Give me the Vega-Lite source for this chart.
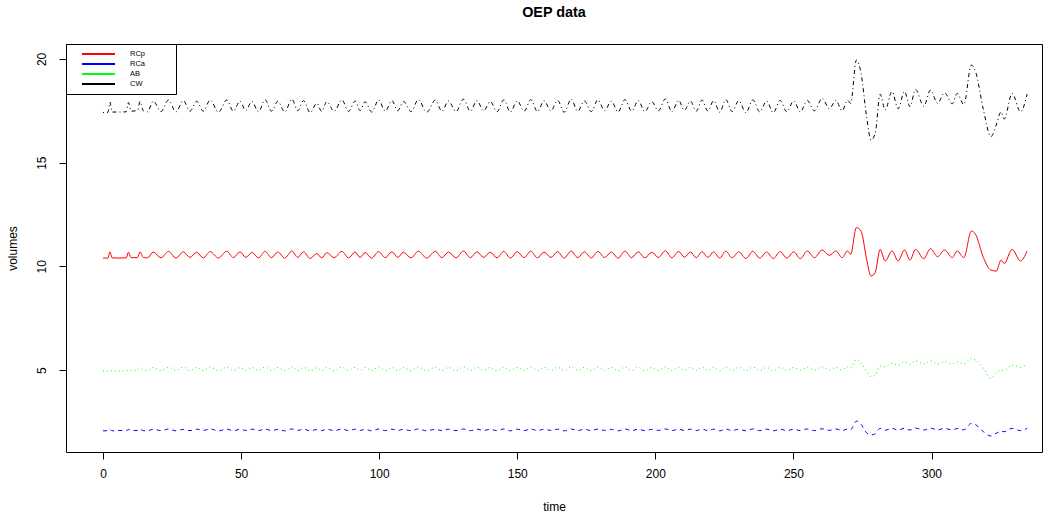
{
  "$schema": "https://vega.github.io/schema/vega-lite/v6.json",
  "autosize": "none",
  "width": 976,
  "height": 408,
  "padding": {"left": 66, "top": 44, "right": 13, "bottom": 63},
  "background": "white",
  "title": {"text": "OEP data", "fontSize": 14.4, "fontWeight": "bold", "font": "Liberation Sans", "color": "black", "anchor": "middle", "offset": 23},
  "config": {"view": {"stroke": "black", "strokeWidth": 1}, "font": "Liberation Sans"},
  "data": {"values": [
    {"t":0,"RCp":10.4,"RCa":2.07,"AB":4.95,"CW":17.42},
    {"t":1.8,"RCp":10.4,"RCa":2.08,"AB":4.95,"CW":17.43},
    {"t":2.5,"RCp":10.7,"RCa":2.14,"AB":4.99,"CW":17.92},
    {"t":3.3,"RCp":10.41,"RCa":2.07,"AB":4.96,"CW":17.44},
    {"t":5.5,"RCp":10.4,"RCa":2.09,"AB":4.95,"CW":17.44},
    {"t":8.4,"RCp":10.41,"RCa":2.08,"AB":4.96,"CW":17.45},
    {"t":9.2,"RCp":10.68,"RCa":2.14,"AB":5.0,"CW":17.9},
    {"t":10.2,"RCp":10.42,"RCa":2.08,"AB":4.98,"CW":17.48},
    {"t":12.5,"RCp":10.42,"RCa":2.09,"AB":5.02,"CW":17.52},
    {"t":13.4,"RCp":10.7,"RCa":2.15,"AB":5.1,"CW":17.95},
    {"t":14.6,"RCp":10.43,"RCa":2.08,"AB":5.0,"CW":17.5},
    {"t":16.1,"RCp":10.41,"RCa":2.07,"AB":4.97,"CW":17.45},
    {"t":18.2,"RCp":10.69,"RCa":2.15,"AB":5.13,"CW":17.97},
    {"t":21.0,"RCp":10.41,"RCa":2.08,"AB":4.97,"CW":17.46},
    {"t":23.7,"RCp":10.72,"RCa":2.16,"AB":5.14,"CW":18.02},
    {"t":26.4,"RCp":10.4,"RCa":2.07,"AB":4.98,"CW":17.45},
    {"t":29.1,"RCp":10.7,"RCa":2.14,"AB":5.15,"CW":17.99},
    {"t":31.5,"RCp":10.43,"RCa":2.08,"AB":4.97,"CW":17.48},
    {"t":33.9,"RCp":10.68,"RCa":2.15,"AB":5.13,"CW":17.96},
    {"t":36.3,"RCp":10.41,"RCa":2.09,"AB":4.98,"CW":17.48},
    {"t":38.8,"RCp":10.71,"RCa":2.16,"AB":5.15,"CW":18.02},
    {"t":41.8,"RCp":10.4,"RCa":2.07,"AB":4.96,"CW":17.43},
    {"t":44.8,"RCp":10.73,"RCa":2.15,"AB":5.14,"CW":18.02},
    {"t":47.2,"RCp":10.42,"RCa":2.08,"AB":4.98,"CW":17.48},
    {"t":49.6,"RCp":10.7,"RCa":2.14,"AB":5.12,"CW":17.96},
    {"t":51.7,"RCp":10.43,"RCa":2.09,"AB":4.99,"CW":17.51},
    {"t":53.9,"RCp":10.67,"RCa":2.15,"AB":5.13,"CW":17.95},
    {"t":56.3,"RCp":10.41,"RCa":2.08,"AB":4.97,"CW":17.46},
    {"t":58.7,"RCp":10.72,"RCa":2.16,"AB":5.15,"CW":18.03},
    {"t":61.0,"RCp":10.42,"RCa":2.08,"AB":4.98,"CW":17.48},
    {"t":63.3,"RCp":10.69,"RCa":2.14,"AB":5.13,"CW":17.96},
    {"t":65.8,"RCp":10.4,"RCa":2.07,"AB":4.97,"CW":17.44},
    {"t":68.4,"RCp":10.74,"RCa":2.16,"AB":5.16,"CW":18.06},
    {"t":70.5,"RCp":10.43,"RCa":2.09,"AB":4.98,"CW":17.5},
    {"t":72.6,"RCp":10.7,"RCa":2.15,"AB":5.14,"CW":17.99},
    {"t":75.0,"RCp":10.38,"RCa":2.07,"AB":4.96,"CW":17.41},
    {"t":77.4,"RCp":10.62,"RCa":2.13,"AB":5.11,"CW":17.86},
    {"t":79.2,"RCp":10.41,"RCa":2.08,"AB":4.98,"CW":17.47},
    {"t":81.0,"RCp":10.66,"RCa":2.15,"AB":5.13,"CW":17.94},
    {"t":83.7,"RCp":10.42,"RCa":2.08,"AB":4.97,"CW":17.47},
    {"t":86.5,"RCp":10.72,"RCa":2.16,"AB":5.15,"CW":18.03},
    {"t":88.9,"RCp":10.41,"RCa":2.08,"AB":4.98,"CW":17.47},
    {"t":91.3,"RCp":10.69,"RCa":2.15,"AB":5.13,"CW":17.97},
    {"t":93.1,"RCp":10.43,"RCa":2.09,"AB":4.99,"CW":17.51},
    {"t":94.9,"RCp":10.67,"RCa":2.14,"AB":5.12,"CW":17.93},
    {"t":97.3,"RCp":10.4,"RCa":2.07,"AB":4.97,"CW":17.44},
    {"t":99.8,"RCp":10.71,"RCa":2.16,"AB":5.15,"CW":18.02},
    {"t":102.2,"RCp":10.42,"RCa":2.08,"AB":4.98,"CW":17.48},
    {"t":104.6,"RCp":10.7,"RCa":2.15,"AB":5.14,"CW":17.99},
    {"t":106.7,"RCp":10.43,"RCa":2.09,"AB":4.98,"CW":17.5},
    {"t":108.8,"RCp":10.68,"RCa":2.14,"AB":5.13,"CW":17.95},
    {"t":111.5,"RCp":10.41,"RCa":2.08,"AB":4.97,"CW":17.46},
    {"t":114.2,"RCp":10.73,"RCa":2.16,"AB":5.15,"CW":18.04},
    {"t":117.2,"RCp":10.4,"RCa":2.07,"AB":4.96,"CW":17.43},
    {"t":120.3,"RCp":10.72,"RCa":2.15,"AB":5.14,"CW":18.01},
    {"t":122.7,"RCp":10.42,"RCa":2.08,"AB":4.98,"CW":17.48},
    {"t":125.1,"RCp":10.69,"RCa":2.15,"AB":5.13,"CW":17.97},
    {"t":127.8,"RCp":10.41,"RCa":2.08,"AB":4.97,"CW":17.46},
    {"t":130.5,"RCp":10.74,"RCa":2.16,"AB":5.16,"CW":18.06},
    {"t":133.0,"RCp":10.42,"RCa":2.08,"AB":4.98,"CW":17.48},
    {"t":135.4,"RCp":10.7,"RCa":2.15,"AB":5.14,"CW":17.99},
    {"t":137.8,"RCp":10.43,"RCa":2.09,"AB":4.98,"CW":17.5},
    {"t":140.2,"RCp":10.68,"RCa":2.14,"AB":5.13,"CW":17.95},
    {"t":142.7,"RCp":10.41,"RCa":2.08,"AB":4.97,"CW":17.46},
    {"t":145.1,"RCp":10.72,"RCa":2.16,"AB":5.15,"CW":18.03},
    {"t":147.5,"RCp":10.4,"RCa":2.07,"AB":4.97,"CW":17.44},
    {"t":150.0,"RCp":10.7,"RCa":2.15,"AB":5.13,"CW":17.98},
    {"t":152.5,"RCp":10.42,"RCa":2.08,"AB":4.98,"CW":17.48},
    {"t":154.9,"RCp":10.73,"RCa":2.16,"AB":5.15,"CW":18.04},
    {"t":157.3,"RCp":10.41,"RCa":2.08,"AB":4.97,"CW":17.46},
    {"t":159.7,"RCp":10.69,"RCa":2.15,"AB":5.14,"CW":17.98},
    {"t":162.2,"RCp":10.43,"RCa":2.09,"AB":4.98,"CW":17.5},
    {"t":164.6,"RCp":10.71,"RCa":2.15,"AB":5.14,"CW":18.0},
    {"t":167.0,"RCp":10.4,"RCa":2.07,"AB":4.96,"CW":17.43},
    {"t":169.5,"RCp":10.74,"RCa":2.16,"AB":5.16,"CW":18.06},
    {"t":171.9,"RCp":10.42,"RCa":2.08,"AB":4.98,"CW":17.48},
    {"t":174.3,"RCp":10.7,"RCa":2.15,"AB":5.13,"CW":17.98},
    {"t":176.8,"RCp":10.41,"RCa":2.08,"AB":4.97,"CW":17.46},
    {"t":179.2,"RCp":10.72,"RCa":2.16,"AB":5.15,"CW":18.03},
    {"t":181.6,"RCp":10.43,"RCa":2.09,"AB":4.99,"CW":17.51},
    {"t":184.1,"RCp":10.69,"RCa":2.14,"AB":5.13,"CW":17.96},
    {"t":186.5,"RCp":10.4,"RCa":2.07,"AB":4.97,"CW":17.44},
    {"t":189.0,"RCp":10.73,"RCa":2.16,"AB":5.15,"CW":18.04},
    {"t":191.4,"RCp":10.42,"RCa":2.08,"AB":4.98,"CW":17.48},
    {"t":193.8,"RCp":10.7,"RCa":2.15,"AB":5.14,"CW":17.99},
    {"t":196.2,"RCp":10.41,"RCa":2.08,"AB":4.97,"CW":17.46},
    {"t":198.7,"RCp":10.68,"RCa":2.14,"AB":5.12,"CW":17.94},
    {"t":201.1,"RCp":10.43,"RCa":2.09,"AB":4.98,"CW":17.5},
    {"t":203.6,"RCp":10.75,"RCa":2.16,"AB":5.16,"CW":18.07},
    {"t":206.0,"RCp":10.41,"RCa":2.08,"AB":4.97,"CW":17.46},
    {"t":208.4,"RCp":10.72,"RCa":2.15,"AB":5.14,"CW":18.01},
    {"t":210.5,"RCp":10.44,"RCa":2.09,"AB":4.99,"CW":17.52},
    {"t":212.7,"RCp":10.69,"RCa":2.15,"AB":5.13,"CW":17.97},
    {"t":214.8,"RCp":10.42,"RCa":2.08,"AB":4.98,"CW":17.48},
    {"t":216.9,"RCp":10.71,"RCa":2.16,"AB":5.15,"CW":18.02},
    {"t":219.0,"RCp":10.43,"RCa":2.08,"AB":4.98,"CW":17.49},
    {"t":221.1,"RCp":10.7,"RCa":2.15,"AB":5.14,"CW":17.99},
    {"t":223.3,"RCp":10.4,"RCa":2.07,"AB":4.96,"CW":17.43},
    {"t":225.5,"RCp":10.73,"RCa":2.16,"AB":5.15,"CW":18.04},
    {"t":227.8,"RCp":10.41,"RCa":2.08,"AB":4.97,"CW":17.46},
    {"t":230.2,"RCp":10.7,"RCa":2.15,"AB":5.14,"CW":17.99},
    {"t":232.8,"RCp":10.38,"RCa":2.07,"AB":4.96,"CW":17.41},
    {"t":235.3,"RCp":10.72,"RCa":2.16,"AB":5.15,"CW":18.03},
    {"t":237.8,"RCp":10.4,"RCa":2.08,"AB":4.97,"CW":17.45},
    {"t":240.3,"RCp":10.69,"RCa":2.15,"AB":5.13,"CW":17.97},
    {"t":242.7,"RCp":10.38,"RCa":2.07,"AB":4.96,"CW":17.41},
    {"t":245.2,"RCp":10.71,"RCa":2.15,"AB":5.14,"CW":18.0},
    {"t":247.6,"RCp":10.4,"RCa":2.08,"AB":4.97,"CW":17.45},
    {"t":250.1,"RCp":10.7,"RCa":2.15,"AB":5.13,"CW":17.98},
    {"t":252.5,"RCp":10.37,"RCa":2.08,"AB":5.0,"CW":17.45},
    {"t":255.0,"RCp":10.74,"RCa":2.16,"AB":5.13,"CW":18.0},
    {"t":257.6,"RCp":10.42,"RCa":2.08,"AB":5.0,"CW":17.5},
    {"t":260.4,"RCp":10.79,"RCa":2.17,"AB":5.16,"CW":18.1},
    {"t":263.0,"RCp":10.53,"RCa":2.09,"AB":5.0,"CW":17.6},
    {"t":265.4,"RCp":10.74,"RCa":2.16,"AB":5.13,"CW":18.0},
    {"t":267.6,"RCp":10.42,"RCa":2.08,"AB":5.0,"CW":17.5},
    {"t":269.6,"RCp":10.74,"RCa":2.16,"AB":5.16,"CW":18.0},
    {"t":270.7,"RCp":10.58,"RCa":2.12,"AB":5.1,"CW":17.86},
    {"t":272.8,"RCp":11.87,"RCa":2.54,"AB":5.52,"CW":19.95},
    {"t":274.5,"RCp":11.7,"RCa":2.38,"AB":5.32,"CW":19.3},
    {"t":276.5,"RCp":10.34,"RCa":1.97,"AB":4.95,"CW":17.2},
    {"t":278.1,"RCp":9.53,"RCa":1.87,"AB":4.68,"CW":16.09},
    {"t":279.6,"RCp":9.7,"RCa":1.93,"AB":4.76,"CW":16.4},
    {"t":281.4,"RCp":10.82,"RCa":2.19,"AB":5.19,"CW":18.3},
    {"t":283.2,"RCp":10.26,"RCa":2.1,"AB":5.16,"CW":17.54},
    {"t":285.7,"RCp":10.74,"RCa":2.19,"AB":5.32,"CW":18.43},
    {"t":287.9,"RCp":10.26,"RCa":2.1,"AB":5.24,"CW":17.6},
    {"t":290.2,"RCp":10.79,"RCa":2.2,"AB":5.4,"CW":18.43},
    {"t":292.2,"RCp":10.3,"RCa":2.11,"AB":5.29,"CW":17.7},
    {"t":294.2,"RCp":10.82,"RCa":2.2,"AB":5.45,"CW":18.53},
    {"t":297.2,"RCp":10.37,"RCa":2.11,"AB":5.29,"CW":17.72},
    {"t":299.6,"RCp":10.85,"RCa":2.2,"AB":5.45,"CW":18.5},
    {"t":302.2,"RCp":10.47,"RCa":2.12,"AB":5.29,"CW":17.86},
    {"t":304.7,"RCp":10.79,"RCa":2.19,"AB":5.4,"CW":18.37},
    {"t":307.5,"RCp":10.42,"RCa":2.11,"AB":5.29,"CW":17.84},
    {"t":309.3,"RCp":10.74,"RCa":2.18,"AB":5.4,"CW":18.34},
    {"t":311.7,"RCp":10.42,"RCa":2.12,"AB":5.29,"CW":17.8},
    {"t":314.4,"RCp":11.7,"RCa":2.43,"AB":5.56,"CW":19.7},
    {"t":315.9,"RCp":11.55,"RCa":2.37,"AB":5.48,"CW":19.4},
    {"t":318.8,"RCp":10.42,"RCa":2.03,"AB":5.08,"CW":17.54},
    {"t":321.5,"RCp":9.82,"RCa":1.82,"AB":4.6,"CW":16.25},
    {"t":323.4,"RCp":9.77,"RCa":1.95,"AB":4.84,"CW":16.8},
    {"t":325.2,"RCp":10.3,"RCa":2.05,"AB":5.0,"CW":17.45},
    {"t":326.3,"RCp":10.14,"RCa":2.03,"AB":4.98,"CW":17.1},
    {"t":329.2,"RCp":10.82,"RCa":2.19,"AB":5.24,"CW":18.34},
    {"t":332.2,"RCp":10.26,"RCa":2.08,"AB":5.13,"CW":17.45},
    {"t":334.6,"RCp":10.74,"RCa":2.19,"AB":5.29,"CW":18.3}
  ]},
  "transform": [{"fold": ["RCp", "RCa", "AB", "CW"], "as": ["series", "volume"]}],
  "encoding": {
    "x": {
      "field": "t", "type": "quantitative",
      "scale": {"domain": [-13.4, 340], "nice": false, "zero": false},
      "axis": {"title": "time", "values": [0, 50, 100, 150, 200, 250, 300], "grid": false, "domain": false,
        "tickColor": "black", "tickSize": 7, "labelFontSize": 12, "labelColor": "black", "labelPadding": 9,
        "labelFlush": false, "labelOverlap": false, "titleFontSize": 12, "titleFontWeight": "normal",
        "titleColor": "black", "titlePadding": 22, "labelFont": "Liberation Sans", "titleFont": "Liberation Sans"}
    },
    "y": {
      "field": "volume", "type": "quantitative",
      "scale": {"domain": [1.05, 20.72], "nice": false, "zero": false},
      "axis": {"title": "volumes", "values": [5, 10, 15, 20], "grid": false, "domain": false,
        "tickColor": "black", "tickSize": 7, "labelFontSize": 12, "labelColor": "black", "labelAngle": 270,
        "labelAlign": "center", "labelBaseline": "bottom", "labelPadding": 11, "labelFlush": false, "labelOverlap": false,
        "titleFontSize": 12, "titleFontWeight": "normal", "titleColor": "black", "titlePadding": 16,
        "labelFont": "Liberation Sans", "titleFont": "Liberation Sans"}
    },
    "color": {
      "field": "series", "type": "nominal",
      "scale": {"domain": ["RCp", "RCa", "AB", "CW"], "range": ["#FF0000", "#0000FF", "#00FF00", "#000000"]},
      "legend": {"title": null, "orient": "none", "legendX": 0, "legendY": 0, "direction": "vertical",
        "symbolType": "stroke", "symbolSize": 1089, "symbolStrokeWidth": 2, "symbolOffset": 10, "symbolDash": [1, 0],
        "labelOffset": 14, "labelFontSize": 7.5, "labelFont": "Liberation Sans", "labelColor": "black",
        "labelExpr": "datum.label + '\u00a0\u00a0\u00a0\u00a0\u00a0\u00a0\u00a0\u00a0\u00a0\u00a0\u00a0\u00a0\u200b'", "labelLimit": 300,
        "clipHeight": 9.8, "rowPadding": 0, "padding": 5, "strokeColor": "black", "fillColor": "white"}
    }
  },
  "layer": [
    {"transform": [{"filter": "datum.series === 'RCp'"}], "mark": {"type": "line", "interpolate": "monotone", "strokeWidth": 1}},
    {"transform": [{"filter": "datum.series === 'RCa'"}], "mark": {"type": "line", "interpolate": "monotone", "strokeWidth": 1, "strokeDash": [4, 4]}},
    {"transform": [{"filter": "datum.series === 'AB'"}], "mark": {"type": "line", "interpolate": "monotone", "strokeWidth": 1, "strokeDash": [1, 3]}},
    {"transform": [{"filter": "datum.series === 'CW'"}], "mark": {"type": "line", "interpolate": "monotone", "strokeWidth": 1, "strokeDash": [1, 3, 4, 3]}}
  ]
}
